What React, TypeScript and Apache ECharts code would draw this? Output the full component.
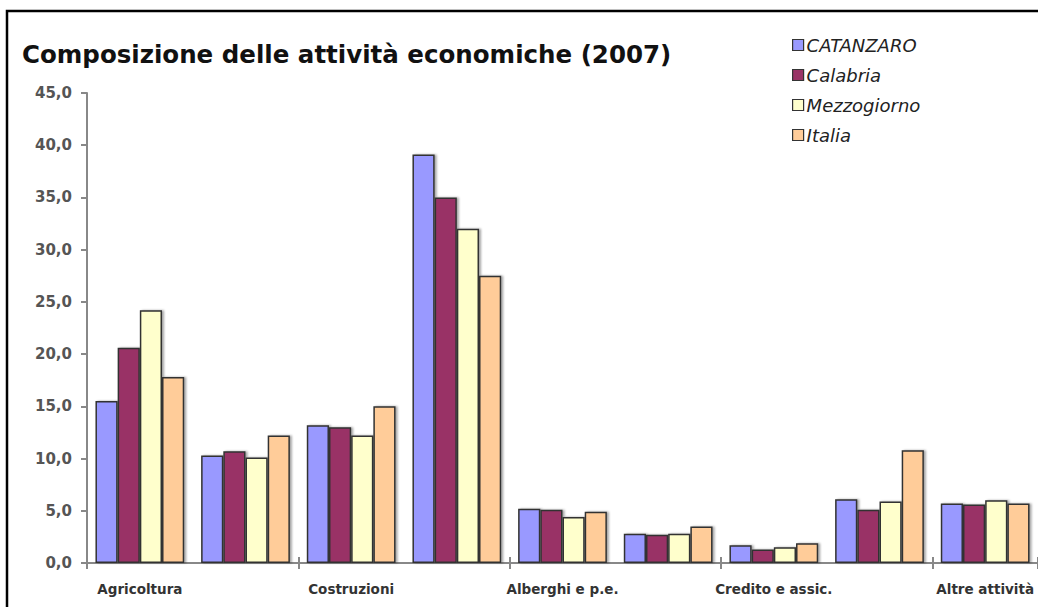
import React, { useEffect, useRef } from "react";
import * as echarts from "echarts";

const categories = [
  "Agricoltura",
  "Industria",
  "Costruzioni",
  "Commercio",
  "Alberghi e p.e.",
  "Trasporti",
  "Credito e assic.",
  "Servizi",
  "Altre attività",
];
const seriesNames = ["CATANZARO", "Calabria", "Mezzogiorno", "Italia"];
const catanzaro = [15.5, 10.3, 13.2, 39.1, 5.2, 2.8, 1.7, 6.1, 5.7];
const calabria = [20.6, 10.7, 13.0, 35.0, 5.1, 2.7, 1.3, 5.1, 5.6];
const mezzogiorno = [24.2, 10.1, 12.2, 32.0, 4.4, 2.8, 1.5, 5.9, 6.0];
const italia = [17.8, 12.2, 15.0, 27.5, 4.9, 3.5, 1.9, 10.8, 5.7];
const colors = ["#9999FF", "#993366", "#FFFFCC", "#FFCC99"];
const titleText = "Composizione delle attività economiche (2007)";

export default function App() {
  const ref = useRef<HTMLDivElement>(null);
  useEffect(() => {
    if (!ref.current) return;
    const chart = echarts.init(ref.current, null, { renderer: "svg" });
    const values = [catanzaro, calabria, mezzogiorno, italia];
    chart.setOption({
      animation: false,
      backgroundColor: "#ffffff",
      graphic: [
        {
          type: "rect",
          z: 0,
          shape: { x: 7, y: 11, width: 1200, height: 700 },
          style: { fill: "none", stroke: "#000", lineWidth: 2.5 },
        },
      ],
      title: {
        text: titleText,
        left: 22,
        top: 42,
        padding: 0,
        textStyle: {
          fontFamily: "DejaVu Sans",
          fontWeight: "bold",
          fontSize: 24.5,
          color: "#111",
        },
      },
      legend: {
        orient: "vertical",
        left: 792,
        top: 36,
        padding: 0,
        itemWidth: 11,
        itemHeight: 11,
        itemGap: 12,
        icon: "rect",
        data: seriesNames,
        itemStyle: { borderColor: "#333", borderWidth: 1.2 },
        textStyle: {
          fontFamily: "DejaVu Sans",
          fontStyle: "italic",
          fontSize: 18,
          color: "#222",
          padding: [0, 0, 0, -2],
        },
      },
      grid: { left: 87, top: 93, width: 954, height: 470, containLabel: false },
      xAxis: [
        {
          type: "category",
          data: categories,
          axisLine: { lineStyle: { color: "#888", width: 2 } },
          axisTick: { show: true, length: 6, lineStyle: { color: "#888", width: 2 } },
          axisLabel: {
            interval: 1,
            margin: 19,
            fontFamily: "DejaVu Sans",
            fontWeight: "bold",
            fontSize: 13.5,
            color: "#333",
          },
        },
        {
          type: "category",
          data: categories,
          position: "bottom",
          axisLine: { show: false },
          axisTick: { show: true, inside: true, length: 6, lineStyle: { color: "#888", width: 2 } },
          axisLabel: { show: false },
        },
      ],
      yAxis: {
        type: "value",
        min: 0,
        max: 45,
        interval: 5,
        splitLine: { show: false },
        axisLine: { show: true, lineStyle: { color: "#888", width: 2 } },
        axisTick: { show: true, length: 6, lineStyle: { color: "#888", width: 2 } },
        axisLabel: {
          margin: 15,
          fontFamily: "DejaVu Sans",
          fontWeight: "bold",
          fontSize: 15,
          color: "#555",
          formatter: (v: number) => v.toFixed(1).replace(".", ","),
        },
      },
      series: seriesNames.map((name, i) => ({
        name,
        type: "bar",
        data: values[i],
        barGap: "0%",
        barCategoryGap: "16%",
        itemStyle: {
          color: colors[i],
          borderColor: "#333",
          borderWidth: 1.5,
          shadowColor: "rgba(0,0,0,0.35)",
          shadowBlur: 2,
          shadowOffsetX: 2,
          shadowOffsetY: 0,
        },
      })),
    });
    return () => chart.dispose();
  }, []);
  return (
    <div
      ref={ref}
      style={{ position: "fixed", left: 0, top: 0, width: 1038, height: 607 }}
    />
  );
}
